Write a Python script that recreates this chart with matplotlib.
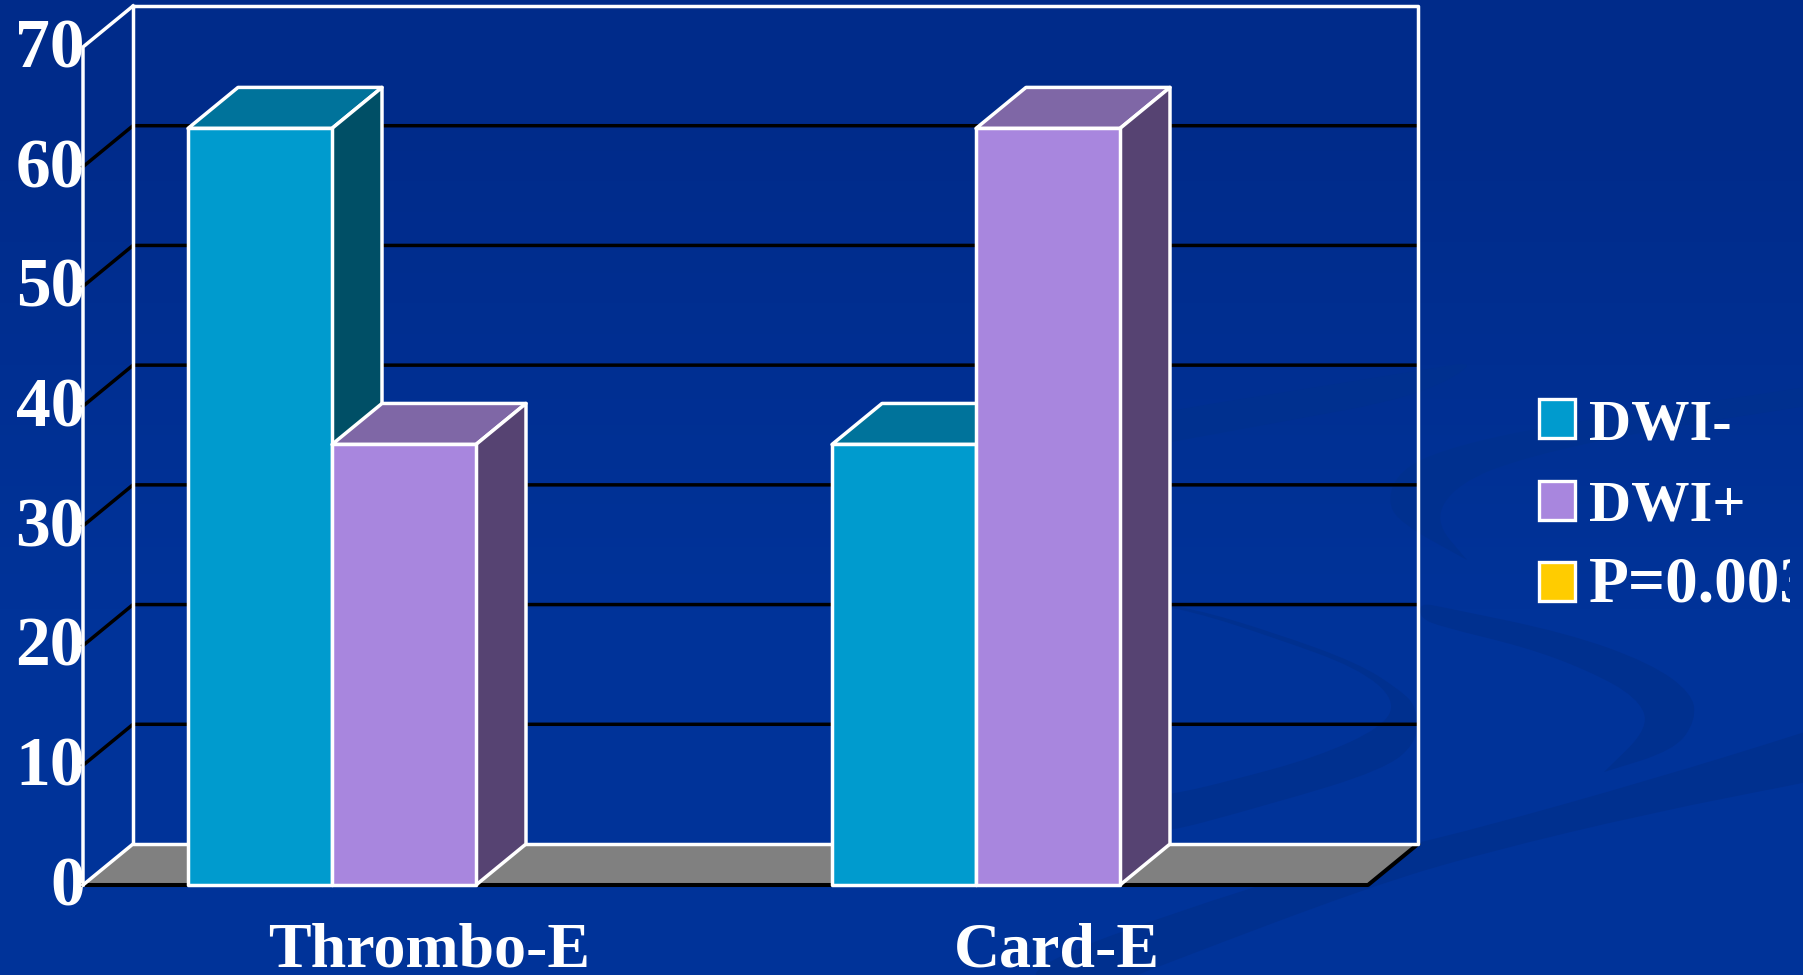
import numpy as np
import matplotlib
matplotlib.use('Agg')
import matplotlib.pyplot as plt
from matplotlib.patches import Polygon, PathPatch, Rectangle
from matplotlib.path import Path
from matplotlib.transforms import ScaledTranslation

# data
categories = ['Thrombo-E', 'Card-E']
dwi_minus = [63.2, 36.8]
dwi_plus = [36.8, 63.2]
y_ticks = [0, 10, 20, 30, 40, 50, 60, 70]
legend_labels = ['DWI-', 'DWI+', 'P=0.003']

plt.rcParams['font.family'] = ['Liberation Serif', 'DejaVu Serif']
plt.rcParams['font.weight'] = 'bold'

W, H = 1803, 975
CYAN = ('#009BCE', '#00739B', '#004F66')
PURPLE = ('#A886DE', '#7F67A6', '#564372')
YELLOW = '#FFCC00'

fig = plt.figure(figsize=(W / 100, H / 100), dpi=100)

# background, in pixel coordinates
bg = fig.add_axes([0, 0, 1, 1], zorder=0)
bg.set_xlim(0, W)
bg.set_ylim(H, 0)
bg.axis('off')
grad = np.array([[[0, 43, 138]], [[0, 47, 146]], [[0, 51, 153]], [[0, 51, 153]]], dtype=np.uint8)
bg.imshow(grad, extent=[0, W, H, 0], aspect='auto', interpolation='bilinear')
bg.set_xlim(0, W)
bg.set_ylim(H, 0)


def swoosh(points):
    # closed smooth shape through the midpoints of the points
    pts = np.array(points, dtype=float)
    mids = (pts + np.roll(pts, -1, axis=0)) / 2
    verts = [mids[-1]]
    codes = [Path.MOVETO]
    for p, m in zip(pts, mids):
        verts += [p, m]
        codes += [Path.CURVE3, Path.CURVE3]
    bg.add_patch(PathPatch(Path(verts, codes), fc='#00308F', ec='none'))


# bottom band
swoosh([(1000, 975), (1248, 887), (1400, 847), (1483, 827), (1650, 780), (1803, 733), (1840, 720),
        (1840, 775), (1803, 783), (1650, 813), (1483, 853), (1369, 887), (1167, 963), (1100, 990)])
# right hook
swoosh([(1420, 603), (1442, 607), (1567, 633), (1650, 663), (1692, 693), (1696, 720), (1675, 750),
        (1604, 772), (1604, 772), (1650, 727), (1637, 697), (1587, 670), (1525, 647), (1442, 627), (1420, 618)])
# hook behind the chart
swoosh([(1130, 600), (1192, 608), (1275, 633), (1358, 663), (1400, 690), (1417, 707), (1417, 743),
        (1383, 770), (1275, 803), (1130, 842), (1130, 800), (1179, 793), (1233, 780), (1317, 757),
        (1383, 727), (1396, 700), (1358, 668), (1275, 638), (1192, 611), (1130, 601)])
# upper s-curve
swoosh([(1840, 380), (1803, 388), (1650, 410), (1525, 430), (1442, 450), (1400, 470), (1387, 500),
        (1400, 523), (1467, 560), (1467, 560), (1433, 520), (1458, 483), (1525, 457), (1650, 430),
        (1803, 407), (1840, 400)])
# upper band in the chart
swoosh([(1130, 420), (1171, 410), (1317, 387), (1421, 370), (1483, 360), (1417, 397), (1275, 423),
        (1171, 442), (1130, 450)])

# legend
legend_colors = [CYAN[0], PURPLE[0], YELLOW]
legend_sizes = [42, 42, 47]
clip = Rectangle((0, 0), 1790, H, transform=bg.transData)
for i, (lab, col, size) in enumerate(zip(legend_labels, legend_colors, legend_sizes)):
    top = 399 + i * 81.5
    bg.add_patch(Rectangle((1539, top), 36, 39, fc=col, ec='white', lw=2.4))
    t = bg.text(1589, top + 40, lab, color='white', fontsize=size, fontweight='bold', va='baseline')
    t.set_clip_path(clip)
    t.set_clip_on(True)

# chart axes sit on the front plane of the 3d box
x0, x1, y0, y1 = 83, 1368, 885, 47
ax = fig.add_axes([x0 / W, 1 - y0 / H, (x1 - x0) / W, (y0 - y1) / H], zorder=1)
ax.patch.set_alpha(0)
ax.set_xlim((x0 - 332) / 644, (x1 - 332) / 644)
ax.set_ylim(0, 70)
for s in ax.spines.values():
    s.set_visible(False)

bar_w = 144 / 644
dx = 50 / 644
dy = 41 / (838 / 70)
xmin, xmax = ax.get_xlim()
lw = 2.5

# floor
ax.add_patch(Polygon([(xmin, 0), (xmin + dx, dy), (xmax + dx, dy), (xmax, 0)],
                     fc='#808080', ec='none', clip_on=False, zorder=1))
ax.plot([xmin, xmax, xmax + dx], [0, 0, dy], color='black', lw=lw + 0.4, clip_on=False, zorder=2)

# grid lines on the back wall and side wall
for v in y_ticks[1:-1]:
    ax.plot([xmin, xmin + dx, xmax + dx], [v, v + dy, v + dy], color='black', lw=lw,
            clip_on=False, zorder=2)

# white frame
ax.plot([xmin + dx, xmax + dx, xmax + dx, xmin + dx, xmin + dx],
        [70 + dy, 70 + dy, dy, dy, 70 + dy], color='white', lw=lw, clip_on=False, zorder=3)
ax.plot([xmin, xmin, xmin + dx], [0, 70, 70 + dy], color='white', lw=lw, clip_on=False, zorder=3)
ax.plot([xmin, xmin + dx], [0, dy], color='white', lw=lw, clip_on=False, zorder=3)


def bar3d(left, val, cols, z):
    right = left + bar_w
    kw = dict(ec='white', lw=lw, joinstyle='round', clip_on=False, zorder=z)
    ax.add_patch(Polygon([(left, val), (left + dx, val + dy), (right + dx, val + dy), (right, val)], fc=cols[1], **kw))
    ax.add_patch(Polygon([(right, 0), (right + dx, dy), (right + dx, val + dy), (right, val)], fc=cols[2], **kw))
    ax.add_patch(Polygon([(left, 0), (left, val), (right, val), (right, 0)], fc=cols[0], **kw))


for i in range(len(categories)):
    bar3d(i - bar_w, dwi_minus[i], CYAN, 4 + i * 2)
    bar3d(i, dwi_plus[i], PURPLE, 5 + i * 2)

ax.set_yticks(y_ticks)
ax.set_yticklabels([str(v) for v in y_ticks], fontsize=50, fontweight='bold', color='white')
ax.tick_params(axis='y', length=0, pad=-1.5)
# nudge the numbers up a little
up = ScaledTranslation(0, 3 / 72, fig.dpi_scale_trans)
for lab in ax.get_yticklabels():
    lab.set_transform(lab.get_transform() + up)

ax.set_xticks([0.151, 1.126])
ax.set_xticklabels(categories, fontsize=46, fontweight='bold', color='white')
ax.tick_params(axis='x', length=0, pad=27)

fig.savefig('out.png', dpi=100)
